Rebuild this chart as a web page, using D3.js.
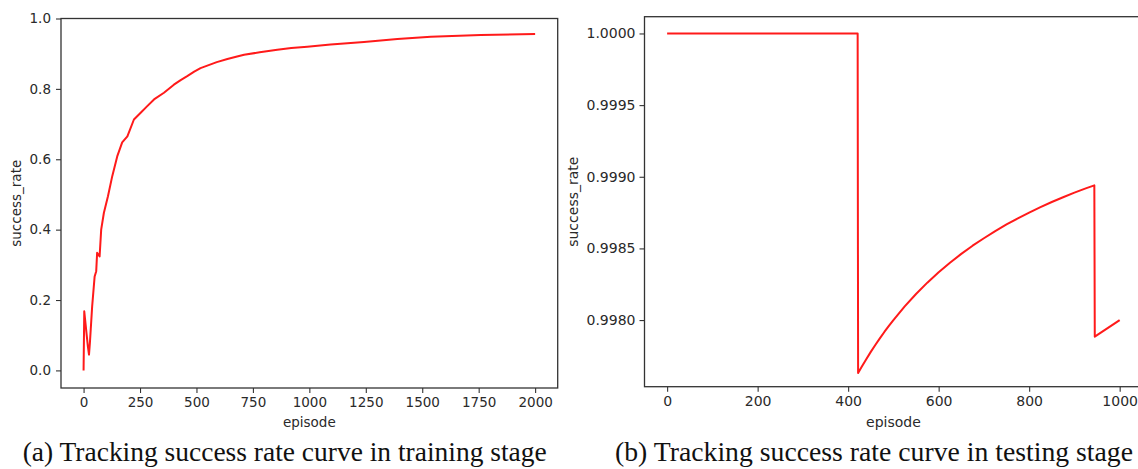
<!DOCTYPE html>
<html>
<head>
<meta charset="utf-8">
<script src="https://cdn.jsdelivr.net/npm/d3@7"></script>
<style>
  body { margin: 0; background: #fff; }
  svg { display: block; }
</style>
</head>
<body>
<svg></svg>
<script>
// training stage (a)
let trainEpisodes = [0, 3, 19, 24, 28, 38, 49, 56, 60, 71, 78, 90, 108, 127, 149, 171, 194, 223, 253, 282, 312, 356, 400, 430, 459, 490, 518, 548, 590, 637, 680, 711, 780, 858, 920, 991, 1094, 1139, 1242, 1390, 1538, 1759, 2000]
let trainRates = [0, 0.168, 0.068, 0.045, 0.078, 0.182, 0.267, 0.282, 0.334, 0.324, 0.400, 0.448, 0.495, 0.552, 0.608, 0.648, 0.665, 0.713, 0.732, 0.751, 0.770, 0.789, 0.812, 0.825, 0.836, 0.849, 0.859, 0.866, 0.876, 0.885, 0.892, 0.897, 0.904, 0.911, 0.916, 0.920, 0.926, 0.928, 0.933, 0.942, 0.948, 0.953, 0.956]
let trainXTicks = [0, 250, 500, 750, 1000, 1250, 1500, 1750, 2000]
let trainYTicks = [0.0, 0.2, 0.4, 0.6, 0.8, 1.0]

// testing stage (b)
let testEpisodes = [0, 421, 422, 430, 440, 450, 460, 470, 480, 490, 500, 525, 550, 575, 600, 625, 650, 675, 700, 725, 750, 775, 800, 825, 850, 875, 900, 925, 944, 945, 1000]
let testRates = [1.0, 1.0, 0.997630, 0.997674, 0.997727, 0.997778, 0.997826, 0.997872, 0.997917, 0.997959, 0.998000, 0.998095, 0.998182, 0.998261, 0.998333, 0.998400, 0.998462, 0.998519, 0.998571, 0.998621, 0.998667, 0.998710, 0.998750, 0.998788, 0.998824, 0.998857, 0.998889, 0.998919, 0.998940, 0.997884, 0.998000]
let testXTicks = [0, 200, 400, 600, 800, 1000]
let testYTicks = [0.9980, 0.9985, 0.9990, 0.9995, 1.0000]

let captions = ['(a) Tracking success rate curve in training stage', '(b) Tracking success rate curve in testing stage']

let width = 1138
let height = 469

let svg = d3.select('svg')
  .attr('width', width)
  .attr('height', height)

let drawPanel = (opt) => {
  let xScale = d3.scaleLinear().domain(opt.xDomain).range([opt.left, opt.right])
  let yScale = d3.scaleLinear().domain(opt.yDomain).range([opt.bottom, opt.top])

  let g = svg.append('g')

  let xAxis = d3.axisBottom(xScale)
    .tickValues(opt.xTicks)
    .tickSize(5)
    .tickPadding(4)
    .tickFormat(d3.format('d'))

  let yAxis = d3.axisLeft(yScale)
    .tickValues(opt.yTicks)
    .tickSize(5)
    .tickPadding(opt.yPad)
    .tickFormat(d3.format(opt.yFormat))

  g.append('g')
    .attr('transform', 'translate(0,' + opt.bottom + ')')
    .call(xAxis)
    .call(a => a.select('.domain').remove())

  g.append('g')
    .attr('transform', 'translate(' + opt.left + ',0)')
    .call(yAxis)
    .call(a => a.select('.domain').remove())

  g.selectAll('.tick line').attr('stroke', '#333').attr('stroke-width', 1.1)
  g.selectAll('.tick text')
    .attr('fill', '#2a2a2a')
    .style('font-family', 'DejaVu Sans')
    .style('font-size', opt.fontSize + 'px')

  // frame
  g.append('rect')
    .attr('x', opt.left)
    .attr('y', opt.top)
    .attr('width', opt.right - opt.left)
    .attr('height', opt.bottom - opt.top)
    .attr('fill', 'none')
    .attr('stroke', '#333')
    .attr('stroke-width', 1.3)

  let line = d3.line()
    .x((d) => { return xScale(d[0]) })
    .y((d) => { return yScale(d[1]) })

  g.append('path')
    .datum(d3.zip(opt.xs, opt.ys))
    .attr('d', line)
    .attr('fill', 'none')
    .attr('stroke', '#ff1a1a')
    .attr('stroke-width', 2)
    .attr('stroke-linejoin', 'round')

  g.append('text')
    .attr('x', (opt.left + opt.right) / 2)
    .attr('y', 427)
    .attr('text-anchor', 'middle')
    .style('font-family', 'DejaVu Sans')
    .style('font-size', opt.fontSize + 'px')
    .attr('fill', '#2a2a2a')
    .text('episode')

  g.append('text')
    .attr('transform', 'translate(' + opt.yLabelX + ',' + ((opt.top + opt.bottom) / 2) + ') rotate(-90)')
    .attr('text-anchor', 'middle')
    .attr('dy', '0.35em')
    .style('font-family', 'DejaVu Sans')
    .style('font-size', opt.fontSize + 'px')
    .attr('fill', '#2a2a2a')
    .text('success_rate')

  g.append('text')
    .attr('x', opt.capX)
    .attr('y', 461)
    .attr('textLength', opt.capW)
    .attr('lengthAdjust', 'spacingAndGlyphs')
    .style('font-family', 'Liberation Serif')
    .style('font-size', '27px')
    .attr('fill', '#111')
    .text(opt.caption)
}

drawPanel({
  xs: trainEpisodes, ys: trainRates,
  xTicks: trainXTicks, yTicks: trainYTicks,
  xDomain: [-100, 2100], yDomain: [-0.05, 1.0],
  left: 61, right: 557.7, top: 18.5, bottom: 388,
  yFormat: '.1f', yPad: 5, fontSize: 13.5, yLabelX: 16,
  caption: captions[0], capX: 22.7, capW: 524
})

drawPanel({
  xs: testEpisodes, ys: testRates,
  xTicks: testXTicks, yTicks: testYTicks,
  xDomain: [-50, 1050], yDomain: [0.997535, 1.000117],
  left: 644.5, right: 1142.3, top: 16.7, bottom: 386.7,
  yFormat: '.4f', yPad: 4, fontSize: 14, yLabelX: 573,
  caption: captions[1], capX: 615, capW: 518
})
</script>
</body>
</html>
